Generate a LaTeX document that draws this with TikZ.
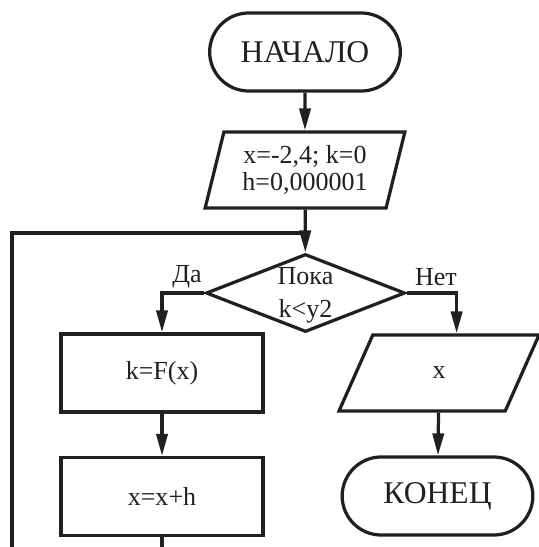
\documentclass[tikz,border=0pt]{standalone}
\usepackage{fontspec}
\setmainfont{Liberation Serif}
\usetikzlibrary{shapes.geometric,shapes.misc,arrows.meta}
\definecolor{ink}{RGB}{35,31,32}

\begin{document}
\begin{tikzpicture}[x=0.025cm,y=-0.025cm,color=ink,line width=2.3pt,
      >={Triangle[length=5.5mm,width=2.8mm]},
      font=\fontsize{18.5}{19}\selectfont,
      terminal/.style={draw,rounded rectangle,minimum width=5cm,
        minimum height=1.95cm,font=\fontsize{22.5}{26}\selectfont},
      process/.style={draw,rectangle,minimum width=5.05cm,minimum height=1.95cm},
      io/.style={draw,trapezium,trapezium left angle=75,trapezium right angle=105,
        trapezium stretches=true,minimum width=5cm,minimum height=1.9cm,align=center},
      decision/.style={draw,diamond,minimum width=4.975cm,minimum height=1.95cm,
        inner sep=0pt}]
      \useasboundingbox (0,0) rectangle (539,547);
      \node[terminal] (start) at (305,52) {НАЧАЛО};
      \node[io] (init) at (305,170) {x=-2,4; k=0\\ h=0,000001};
      \node[decision] (cond) at (305.5,293) {};
      \node[align=center,font=\fontsize{18.5}{23.5}\selectfont] (condtext) at (305.5,295)
        {Пока\\k<y2};
      \node (yes) at (187,277) {Да};
      \node (no) at (436,277) {Нет};
      \node[process] (calc) at (162,373) {k=F(x)};
      \node[process] (step) at (162,496.5) {x=x+h};
      \node[io] (outx) at (439,373) {x};
      \node[terminal] (end) at (437.5,496) {КОНЕЦ};
      \coordinate (loopbot) at (12,547);
      \coordinate (merge) at (305,233);
      \coordinate (stepbot) at (162,547);
      % main line
      \draw[->] (start) -- (init);
      \draw[->] (init) -- (cond);
      \draw (loopbot) |- (merge);
      % branches
      \draw[->] (cond.west) -| (calc.north);
      \draw[->] (calc) -- (step);
      \draw (step) -- (stepbot);
      \draw[->] (cond.east) -| (outx.top side);
      \draw[->] (outx) -- (end);
    \end{tikzpicture}
\end{document}
